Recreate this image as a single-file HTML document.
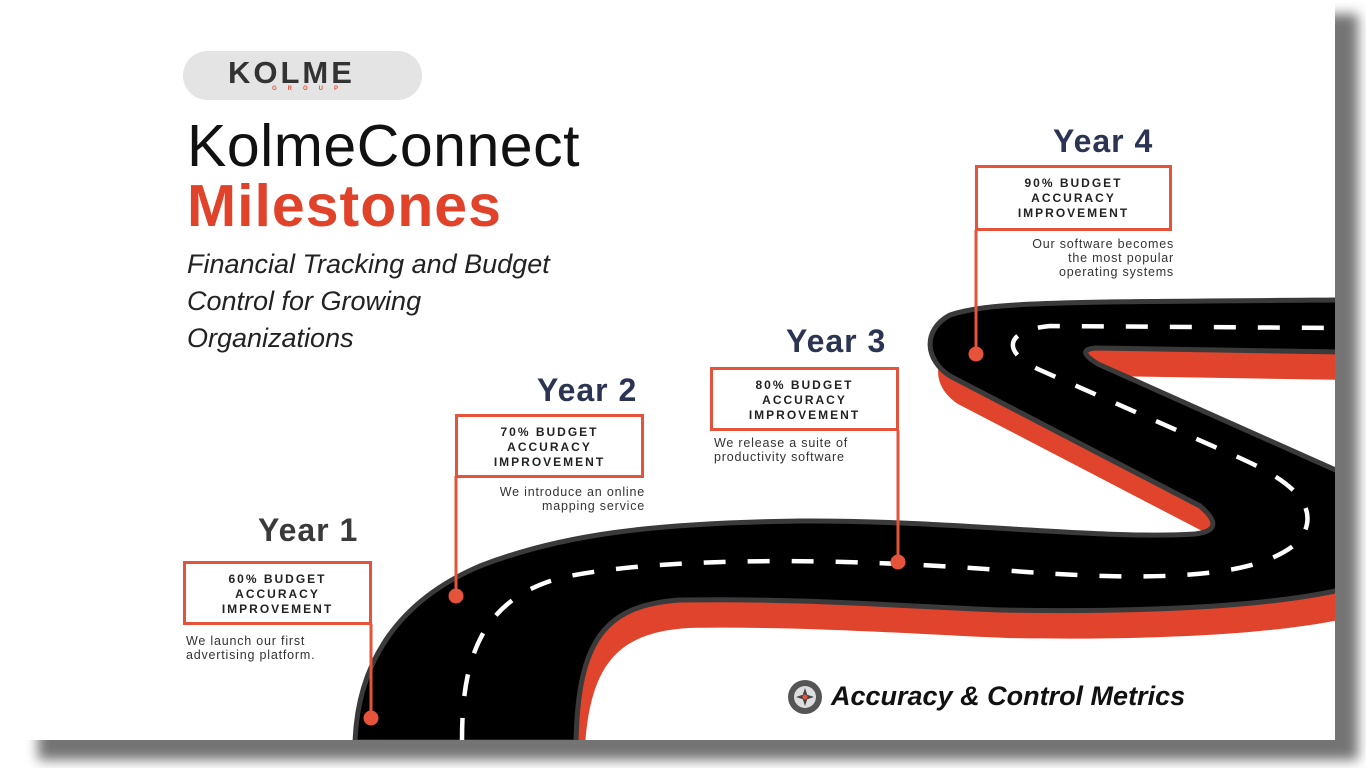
<!DOCTYPE html>
<html><head><meta charset="utf-8"><style>
html,body{margin:0;padding:0;width:1366px;height:768px;overflow:hidden;background:#fff;font-family:"Liberation Sans",sans-serif;}
.shadow{position:absolute;left:38px;top:14px;width:1320px;height:746px;background:#747474;filter:blur(6px);}
.card{position:absolute;left:0px;top:0px;width:1335px;height:740px;background:#fff;}
.abs{position:absolute;}
.year{position:absolute;font-weight:bold;font-size:32px;letter-spacing:1px;color:#2b3553;}
.box{position:absolute;border:3px solid #e5533a;box-sizing:border-box;background:#fff;text-align:center;font-weight:bold;font-size:12px;letter-spacing:2px;line-height:15px;color:#222;padding-top:8px;}
.desc{position:absolute;font-size:12.5px;letter-spacing:0.8px;line-height:14px;color:#333;}
</style></head><body>
<div class="shadow"></div>
<div class="card"></div>
<svg class="abs" style="left:0;top:0" width="1366" height="768">
 <defs><clipPath id="c"><rect x="0" y="0" width="1335" height="740"/></clipPath></defs>
 <g clip-path="url(#c)">
  <path transform="translate(8,28)" fill="#e0442c" d="M355,742 C358,660 400,600 480,566 C560,535 650,523 800,521 C950,520 1100,540 1195,534 Q1228,530 1200,506 L1000,402 L950,376 C925,360 922,330 950,315 C990,302 1050,302 1340,300 L1340,352 L1095,348 Q1075,350 1098,364 L1340,472 L1340,590 C1250,610 1100,612 1000,610 C900,606 800,598 680,600 C605,605 578,640 576,742 Z"/>
  <path fill="#000" stroke="#3a3a3a" stroke-width="5" d="M355,742 C358,660 400,600 480,566 C560,535 650,523 800,521 C950,520 1100,540 1195,534 Q1228,530 1200,506 L1000,402 L950,376 C925,360 922,330 950,315 C990,302 1050,302 1340,300 L1340,352 L1095,348 Q1075,350 1098,364 L1340,472 L1340,590 C1250,610 1100,612 1000,610 C900,606 800,598 680,600 C605,605 578,640 576,742 Z"/>
  <path fill="none" stroke="#fff" stroke-width="4.5" stroke-dasharray="22 22" d="M462,740 C462,660 480,600 560,578 C640,560 800,555 1000,570 C1150,582 1260,580 1300,540 C1320,510 1300,485 1240,458 L1040,370 C1000,352 1005,330 1050,326 L1335,328"/>
 </g>
 <g stroke="#e5533a" stroke-width="3" fill="#e5533a">
  <line x1="371" y1="624" x2="371" y2="718"/><circle cx="371" cy="718" r="6"/>
  <line x1="456" y1="476" x2="456" y2="596"/><circle cx="456" cy="596" r="6"/>
  <line x1="898" y1="430" x2="898" y2="562"/><circle cx="898" cy="562" r="6"/>
  <line x1="976" y1="230" x2="976" y2="354"/><circle cx="976" cy="354" r="6"/>
 </g>
 <circle cx="805" cy="697" r="17" fill="#555"/>
 <circle cx="805" cy="697" r="11" fill="#ddd"/>
 <path d="M805,688 L808,697 L805,706 L802,697Z M796,697 L805,694 L814,697 L805,700Z" fill="#444"/>
 <circle cx="805" cy="697" r="2.5" fill="#e5533a"/>
</svg>
<div class="abs" style="left:183px;top:51px;width:239px;height:49px;border-radius:25px;background:#e4e4e4;"></div>
<div class="abs" style="left:228px;top:55px;font-weight:bold;font-size:31px;letter-spacing:3px;color:#333;">KOLME</div>
<div class="abs" style="left:272px;top:86px;font-weight:bold;font-size:6px;letter-spacing:11px;color:#e5533a;">GROUP</div>
<div class="abs" style="left:187px;top:112px;font-size:59px;letter-spacing:0.5px;color:#111;">KolmeConnect</div>
<div class="abs" style="left:187px;top:172px;font-size:59px;letter-spacing:1px;font-weight:bold;color:#e0432a;">Milestones</div>
<div class="abs" style="left:187px;top:246px;font-size:27px;font-style:italic;line-height:37px;color:#222;">Financial Tracking and Budget<br>Control for Growing<br>Organizations</div>

<div class="year" style="left:258px;top:512px;color:#3a3a3a;">Year 1</div>
<div class="box" style="left:183px;top:561px;width:189px;height:64px;">60% BUDGET<br>ACCURACY<br>IMPROVEMENT</div>
<div class="desc" style="left:186px;top:634px;">We launch our first<br>advertising platform.</div>

<div class="year" style="left:537px;top:372px;">Year 2</div>
<div class="box" style="left:455px;top:414px;width:189px;height:64px;">70% BUDGET<br>ACCURACY<br>IMPROVEMENT</div>
<div class="desc" style="left:455px;top:485px;width:190px;text-align:right;">We introduce an online<br>mapping service</div>

<div class="year" style="left:786px;top:323px;">Year 3</div>
<div class="box" style="left:710px;top:367px;width:189px;height:64px;">80% BUDGET<br>ACCURACY<br>IMPROVEMENT</div>
<div class="desc" style="left:714px;top:436px;">We release a suite of<br>productivity software</div>

<div class="year" style="left:1053px;top:123px;">Year 4</div>
<div class="box" style="left:975px;top:165px;width:197px;height:66px;">90% BUDGET<br>ACCURACY<br>IMPROVEMENT</div>
<div class="desc" style="left:975px;top:237px;width:199px;text-align:right;">Our software becomes<br>the most popular<br>operating systems</div>

<div class="abs" style="left:831px;top:681px;font-size:27px;font-weight:bold;font-style:italic;color:#111;">Accuracy &amp; Control Metrics</div>
</body></html>
